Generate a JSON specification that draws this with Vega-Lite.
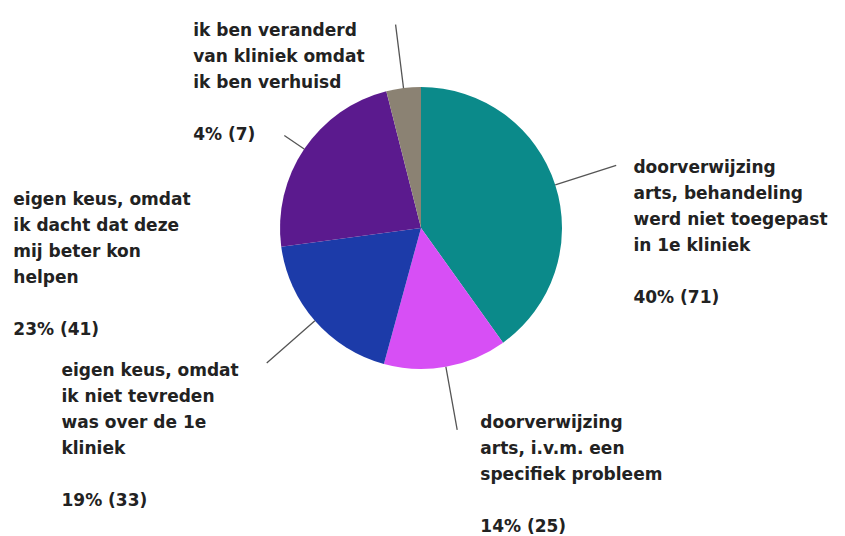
{
  "$schema": "https://vega.github.io/schema/vega-lite/v6.json",
  "width": 842,
  "height": 456,
  "autosize": {"type": "none"},
  "padding": {"left": 0, "top": 0, "right": 3, "bottom": 80},
  "background": "white",
  "config": {
    "view": {"stroke": null},
    "text": {"font": "DejaVu Sans", "fontWeight": "bold", "fontSize": 17, "lineHeight": 26, "lineBreak": "|", "color": "#222222", "align": "left", "baseline": "top", "radius": 200}
  },
  "data": {
    "values": [
      {"cat": "teal", "order": 1, "n": 71, "label": "doorverwijzing|arts, behandeling|werd niet toegepast|in 1e kliniek"},
      {"cat": "pink", "order": 2, "n": 25, "label": "doorverwijzing|arts, i.v.m. een|specifiek probleem"},
      {"cat": "blue", "order": 3, "n": 33, "label": "eigen keus, omdat|ik niet tevreden|was over de 1e|kliniek"},
      {"cat": "purple", "order": 4, "n": 41, "label": "eigen keus, omdat|ik dacht dat deze|mij beter kon|helpen"},
      {"cat": "grey", "order": 5, "n": 7, "label": "ik ben veranderd|van kliniek omdat|ik ben verhuisd"}
    ]
  },
  "transform": [
    {"joinaggregate": [{"op": "sum", "field": "n", "as": "total"}]},
    {"stack": "n", "groupby": [], "sort": [{"field": "order"}], "offset": "normalize", "as": ["s0", "s1"]},
    {"calculate": "(datum.s0 + datum.s1) / 2", "as": "mid"},
    {"calculate": "format(datum.n / datum.total, '.0%') + ' (' + datum.n + ')'", "as": "pct"}
  ],
  "layer": [
    {
      "mark": {"type": "arc", "outerRadius": 141},
      "encoding": {
        "theta": {"field": "s0", "type": "quantitative", "scale": {"domain": [0, 1]}},
        "theta2": {"field": "s1"},
        "color": {
          "field": "cat", "type": "nominal", "legend": null,
          "scale": {"domain": ["teal", "pink", "blue", "purple", "grey"], "range": ["#0b8a8a", "#d74ff5", "#1c3ba9", "#5b1a8e", "#8b8273"]}
        }
      }
    },
    {
      "transform": [{"filter": "datum.cat != 'purple'"}],
      "mark": {"type": "arc", "innerRadius": 141, "outerRadius": 205, "filled": false, "stroke": "#555555", "strokeWidth": 1.3},
      "encoding": {
        "theta": {"field": "mid", "type": "quantitative", "scale": {"domain": [0, 1]}},
        "theta2": {"field": "mid"}
      }
    },
    {
      "transform": [{"filter": "datum.cat == 'purple'"}],
      "mark": {"type": "arc", "innerRadius": 141, "outerRadius": 165, "filled": false, "stroke": "#555555", "strokeWidth": 1.3},
      "encoding": {
        "theta": {"field": "mid", "type": "quantitative", "scale": {"domain": [0, 1]}},
        "theta2": {"field": "mid"}
      }
    },
    {
      "transform": [{"filter": "datum.cat == 'teal'"}],
      "encoding": {"theta": {"field": "mid", "type": "quantitative", "scale": {"domain": [0, 1]}}},
      "layer": [
        {"mark": {"type": "text", "dx": 22, "dy": -7}, "encoding": {"text": {"field": "label"}}},
        {"mark": {"type": "text", "dx": 22, "dy": 123}, "encoding": {"text": {"field": "pct"}}}
      ]
    },
    {
      "transform": [{"filter": "datum.cat == 'pink'"}],
      "encoding": {"theta": {"field": "mid", "type": "quantitative", "scale": {"domain": [0, 1]}}},
      "layer": [
        {"mark": {"type": "text", "dx": 24, "dy": -10}, "encoding": {"text": {"field": "label"}}},
        {"mark": {"type": "text", "dx": 24, "dy": 94}, "encoding": {"text": {"field": "pct"}}}
      ]
    },
    {
      "transform": [{"filter": "datum.cat == 'blue'"}],
      "encoding": {"theta": {"field": "mid", "type": "quantitative", "scale": {"domain": [0, 1]}}},
      "layer": [
        {"mark": {"type": "text", "dx": -209, "dy": 3}, "encoding": {"text": {"field": "label"}}},
        {"mark": {"type": "text", "dx": -209, "dy": 133}, "encoding": {"text": {"field": "pct"}}}
      ]
    },
    {
      "transform": [{"filter": "datum.cat == 'purple'"}],
      "encoding": {"theta": {"field": "mid", "type": "quantitative", "scale": {"domain": [0, 1]}}},
      "layer": [
        {"mark": {"type": "text", "dx": -242, "dy": 76}, "encoding": {"text": {"field": "label"}}},
        {"mark": {"type": "text", "dx": -242, "dy": 206}, "encoding": {"text": {"field": "pct"}}}
      ]
    },
    {
      "transform": [{"filter": "datum.cat == 'grey'"}],
      "encoding": {"theta": {"field": "mid", "type": "quantitative", "scale": {"domain": [0, 1]}}},
      "layer": [
        {"mark": {"type": "text", "dx": -203, "dy": -7}, "encoding": {"text": {"field": "label"}}},
        {"mark": {"type": "text", "dx": -203, "dy": 97}, "encoding": {"text": {"field": "pct"}}}
      ]
    }
  ]
}
